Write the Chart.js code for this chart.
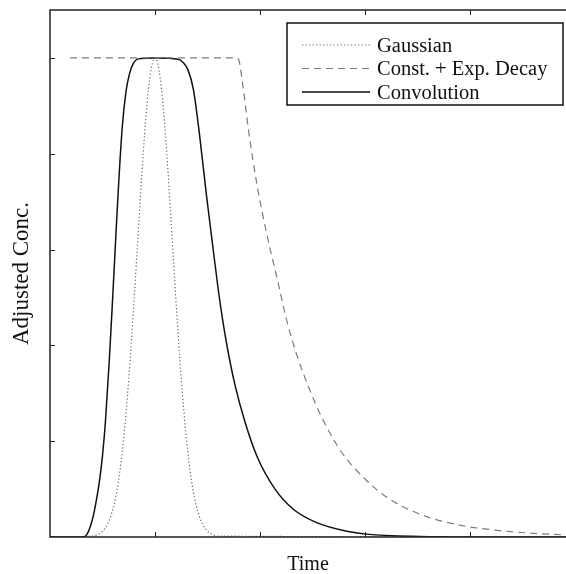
<!DOCTYPE html>
<html>
<head>
<meta charset="utf-8">
<script src="https://cdn.jsdelivr.net/npm/chart.js@4.4.1/dist/chart.umd.min.js"></script>
<style>
    html, body { margin: 0; padding: 0; background: #fff; }
    #wrap { width: 566px; height: 574px; position: relative; }
</style>
</head>
<body>
<div id="wrap"><canvas id="convChart"></canvas></div>
<script>
// x range of the visible axes (ticks at 1..4, right edge is cut off)
const xMin = 0;
const xMax = 4.914;
const yMin = 0;
const yMax = 1.1;

const seriesLabels = ['Gaussian', 'Const. + Exp. Decay', 'Convolution'];

const gaussX = [0, 0.4, 0.45, 0.5, 0.55, 0.6, 0.65, 0.7, 0.75, 0.8, 0.85, 0.9, 0.95, 1.0,
    1.05, 1.1, 1.15, 1.2, 1.25, 1.3, 1.35, 1.4, 1.45, 1.5, 1.55, 1.6, 4.914];
const gaussY = [0, 0.002, 0.005, 0.012, 0.028, 0.059, 0.114, 0.203, 0.330, 0.492, 0.671, 0.838, 0.957, 1.0,
    0.957, 0.838, 0.671, 0.492, 0.330, 0.203, 0.114, 0.059, 0.028, 0.012, 0.005, 0.002, 0];

const decayX = [0.19, 1.78, 1.80, 1.835, 1.895, 1.969, 2.064, 2.174, 2.254, 2.35, 2.47, 2.603, 2.793,
    3.01, 3.207, 3.505, 3.873, 4.254, 4.6, 4.914];
const decayY = [1.0, 1.0, 0.995, 0.945, 0.842, 0.738, 0.633, 0.529, 0.452, 0.38, 0.309, 0.243, 0.172,
    0.119, 0.083, 0.049, 0.026, 0.014, 0.0077, 0.0042];

const convX = [0, 0.317, 0.35, 0.381, 0.41, 0.44, 0.47, 0.50, 0.527, 0.565, 0.597, 0.631, 0.657, 0.689,
    0.724, 0.755, 0.79, 0.84, 1.0, 1.22, 1.27, 1.314, 1.365, 1.424, 1.489, 1.54, 1.603, 1.645, 1.689,
    1.762, 1.857, 1.974, 2.143, 2.317, 2.54, 2.826, 3.016, 3.52, 4.0, 4.914];
const convY = [0, 0, 0.005, 0.02, 0.042, 0.075, 0.115, 0.17, 0.238, 0.37, 0.5, 0.645, 0.75, 0.858,
    0.93, 0.965, 0.987, 0.998, 1.0, 0.997, 0.99, 0.975, 0.935, 0.84, 0.715, 0.625, 0.515, 0.452, 0.395,
    0.317, 0.24, 0.167, 0.1, 0.058, 0.03, 0.012, 0.006, 0.001, 0, 0];

const xTicks = [1, 2, 3, 4];
const yTicks = [0.2, 0.4, 0.6, 0.8, 1.0];

const serif = "'Liberation Serif', 'Times New Roman', serif";

function toPoints(xs, ys) {
    return xs.map((x, i) => ({ x: x, y: ys[i] }));
}

// box round the plot with inward tick marks, like the original figure
const frameTicks = {
    id: 'frameTicks',
    afterDatasetsDraw(chart) {
        const { ctx, chartArea: a, scales } = chart;
        ctx.save();
        ctx.strokeStyle = '#222';
        ctx.lineWidth = 1.5;
        ctx.beginPath();
        ctx.moveTo(a.right + 5, a.top);
        ctx.lineTo(a.left, a.top);
        ctx.lineTo(a.left, a.bottom);
        ctx.lineTo(a.right + 5, a.bottom);
        ctx.stroke();

        ctx.lineWidth = 1;
        ctx.beginPath();
        xTicks.forEach(v => {
            const px = Math.round(scales.x.getPixelForValue(v)) + 0.5;
            ctx.moveTo(px, a.bottom);
            ctx.lineTo(px, a.bottom - 5);
            ctx.moveTo(px, a.top);
            ctx.lineTo(px, a.top + 5);
        });
        yTicks.forEach(v => {
            const py = Math.round(scales.y.getPixelForValue(v)) + 0.5;
            ctx.moveTo(a.left, py);
            ctx.lineTo(a.left + 5, py);
        });
        ctx.stroke();
        ctx.restore();
    }
};

// boxed legend in the upper right corner of the plot
const boxLegend = {
    id: 'boxLegend',
    afterDraw(chart) {
        const { ctx, chartArea: a } = chart;
        const left = a.left + 237;
        const top = a.top + 13;
        const w = 276;
        const h = 82;
        ctx.save();
        ctx.fillStyle = '#fff';
        ctx.fillRect(left, top, w, h);
        ctx.strokeStyle = '#111';
        ctx.lineWidth = 1.5;
        ctx.strokeRect(left, top, w, h);

        ctx.font = '20.5px ' + serif;
        ctx.textBaseline = 'middle';
        ctx.fillStyle = '#111';
        chart.data.datasets.forEach((ds, i) => {
            const y = top + 22 + i * 23.5;
            ctx.beginPath();
            ctx.strokeStyle = ds.borderColor;
            ctx.lineWidth = ds.borderWidth;
            ctx.setLineDash(ds.borderDash || []);
            ctx.moveTo(left + 15, y);
            ctx.lineTo(left + 83, y);
            ctx.stroke();
            ctx.setLineDash([]);
            ctx.fillText(ds.label, left + 90, y + 1.5);
        });
        ctx.restore();
    }
};

const ctx = document.getElementById('convChart').getContext('2d');
new Chart(ctx, {
    type: 'line',
    data: {
        datasets: [
            {
                label: seriesLabels[0],
                data: toPoints(gaussX, gaussY),
                borderColor: '#666',
                borderWidth: 1.2,
                borderDash: [1.2, 2.3],
                cubicInterpolationMode: 'monotone'
            },
            {
                label: seriesLabels[1],
                data: toPoints(decayX, decayY),
                borderColor: '#7c7c7c',
                borderWidth: 1.2,
                borderDash: [7, 5],
                cubicInterpolationMode: 'monotone'
            },
            {
                label: seriesLabels[2],
                data: toPoints(convX, convY),
                borderColor: '#111',
                borderWidth: 1.5,
                cubicInterpolationMode: 'monotone'
            }
        ]
    },
    options: {
        responsive: true,
        maintainAspectRatio: false,
        animation: false,
        events: [],
        elements: { point: { radius: 0 } },
        layout: { padding: { top: 10, right: 0, left: 0, bottom: 0 } },
        plugins: {
            legend: { display: false },
            tooltip: { enabled: false }
        },
        scales: {
            x: {
                type: 'linear',
                min: xMin,
                max: xMax,
                ticks: { display: false, stepSize: 1 },
                grid: { display: false, drawTicks: false },
                border: { display: false },
                title: {
                    display: true,
                    text: 'Time',
                    color: '#111',
                    font: { family: serif, size: 20, lineHeight: 0.9 },
                    padding: { top: 19, bottom: 0 }
                }
            },
            y: {
                min: yMin,
                max: yMax,
                ticks: { display: false, stepSize: 0.2 },
                grid: { display: false, drawTicks: false },
                border: { display: false },
                title: {
                    display: true,
                    text: 'Adjusted Conc.',
                    color: '#111',
                    font: { family: serif, size: 23, lineHeight: 1.2 },
                    padding: { top: 8, bottom: 14.4 }
                }
            }
        }
    },
    plugins: [frameTicks, boxLegend]
});
</script>
</body>
</html>
